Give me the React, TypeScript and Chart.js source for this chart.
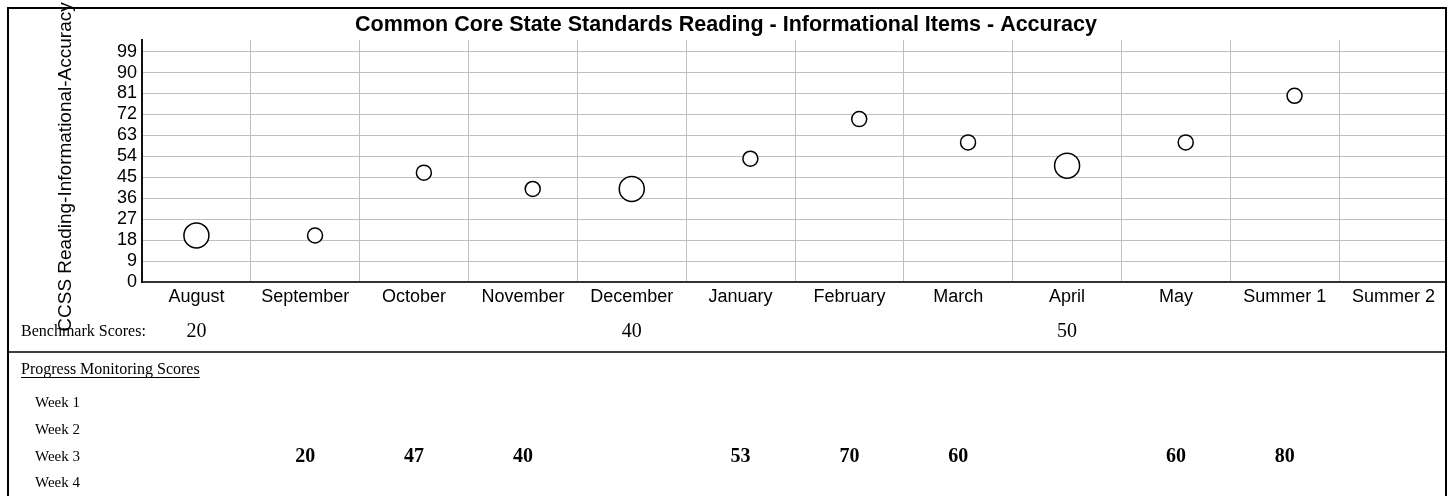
import React, { useEffect, useRef } from 'react';
import { Chart, registerables } from 'chart.js';

Chart.register(...registerables);

const TITLE = 'Common Core State Standards Reading - Informational Items - Accuracy';
const Y_TITLE = 'CCSS Reading-Informational-Accuracy';

const months = ['August', 'September', 'October', 'November', 'December', 'January', 'February', 'March', 'April', 'May', 'Summer 1', 'Summer 2'];
const yTicks = [0, 9, 18, 27, 36, 45, 54, 63, 72, 81, 90, 99];

const benchmarkScores: (number | null)[] = [20, null, null, null, 40, null, null, null, 50, null, null, null];
const week1Scores: (number | null)[] = [null, null, null, null, null, null, null, null, null, null, null, null];
const week2Scores: (number | null)[] = [null, null, null, null, null, null, null, null, null, null, null, null];
const week3Scores: (number | null)[] = [null, 20, 47, 40, null, 53, 70, 60, null, 60, 80, null];
const week4Scores: (number | null)[] = [null, null, null, null, null, null, null, null, null, null, null, null];

const weekLabels = ['Week 1', 'Week 2', 'Week 3', 'Week 4'];
const weekScores = [week1Scores, week2Scores, week3Scores, week4Scores];
// position of each week inside its month column (fraction of the month)
const weekPositions = [0.2, 0.4, 0.59, 0.8];
const benchmarkPosition = 0.5;

const SANS = "'Liberation Sans', Arial, Helvetica, sans-serif";
const SERIF = "'Liberation Serif', 'Times New Roman', Times, serif";

function toPoints(scores: (number | null)[], frac: number) {
  const pts: { x: number; y: number }[] = [];
  scores.forEach((v, i) => {
    if (v !== null) pts.push({ x: i + frac, y: v });
  });
  return pts;
}

const framePlugin = {
  id: 'frameAndTable',
  afterDraw(chart: any) {
    const ctx = chart.ctx;
    const xs = chart.scales.xv;
    ctx.save();

    // anything past the frame's right edge is hidden
    ctx.fillStyle = '#fff';
    ctx.fillRect(1447, 0, chart.width - 1447, chart.height);

    // frame and divider
    ctx.strokeStyle = '#000';
    ctx.lineWidth = 2;
    ctx.beginPath();
    ctx.moveTo(8, 520);
    ctx.lineTo(8, 8);
    ctx.lineTo(1446, 8);
    ctx.lineTo(1446, 520);
    ctx.stroke();
    ctx.lineWidth = 1.5;
    ctx.beginPath();
    ctx.moveTo(8, 352);
    ctx.lineTo(1446, 352);
    ctx.stroke();

    ctx.fillStyle = '#000';
    ctx.textBaseline = 'middle';

    // vertical axis title
    ctx.save();
    ctx.translate(66, 167);
    ctx.rotate(-Math.PI / 2);
    ctx.textAlign = 'center';
    ctx.font = `19px ${SANS}`;
    ctx.fillText(Y_TITLE, 0, 0);
    ctx.restore();

    // Benchmark row
    ctx.textAlign = 'left';
    ctx.font = `16px ${SERIF}`;
    ctx.fillText('Benchmark Scores:', 21, 332);
    ctx.textAlign = 'center';
    ctx.font = `20px ${SERIF}`;
    benchmarkScores.forEach((v, i) => {
      if (v !== null) ctx.fillText(String(v), xs.getPixelForValue(i + 0.5), 332);
    });

    // Progress monitoring header
    ctx.textAlign = 'left';
    ctx.font = `16px ${SERIF}`;
    const hdr = 'Progress Monitoring Scores';
    ctx.fillText(hdr, 21, 370);
    const w = ctx.measureText(hdr).width;
    ctx.strokeStyle = '#000';
    ctx.lineWidth = 1;
    ctx.beginPath();
    ctx.moveTo(21, 377.5);
    ctx.lineTo(21 + w, 377.5);
    ctx.stroke();

    const rowY = [403, 430, 457, 483];
    weekLabels.forEach((lbl, r) => {
      ctx.textAlign = 'left';
      ctx.font = `15px ${SERIF}`;
      ctx.fillText(lbl, 35, rowY[r]);
      ctx.textAlign = 'center';
      ctx.font = `bold 20px ${SERIF}`;
      weekScores[r].forEach((v, i) => {
        if (v !== null) ctx.fillText(String(v), xs.getPixelForValue(i + 0.5), rowY[r]);
      });
    });
    ctx.restore();
  },
};

export default function App() {
  const ref = useRef<HTMLCanvasElement | null>(null);

  useEffect(() => {
    if (!ref.current) return;
    const pointStyle = {
      pointStyle: 'circle',
      pointBorderColor: '#000',
      pointBackgroundColor: '#fff',
      pointBorderWidth: 1.5,
      pointHoverRadius: 0,
      xAxisID: 'xv',
      yAxisID: 'y',
    };
    const datasets: any[] = [
      { label: 'Benchmark', data: toPoints(benchmarkScores, benchmarkPosition), pointRadius: 12.5, ...pointStyle },
      ...weekScores.map((s, k) => ({ label: weekLabels[k], data: toPoints(s, weekPositions[k]), pointRadius: 7.5, ...pointStyle })),
    ];

    const chart = new Chart(ref.current, {
      type: 'scatter',
      data: { datasets },
      options: {
        responsive: false,
        animation: false,
        events: [],
        layout: { autoPadding: false, padding: { left: 4, right: 6, top: 0, bottom: 0 } },
        plugins: {
          legend: { display: false },
          tooltip: { enabled: false },
          title: {
            display: true,
            text: TITLE,
            color: '#000',
            font: { family: SANS, size: 21.5, weight: 'bold', lineHeight: 1.2 },
            padding: { top: 12.5, bottom: 1.7 },
          },
        },
        scales: {
          x: {
            type: 'category',
            labels: months,
            offset: true,
            position: 'bottom',
            grid: { offset: true, color: '#c0c0c0', lineWidth: 1, drawTicks: false },
            border: { display: true, color: '#333', width: 2 },
            ticks: { font: { family: SANS, size: 18 }, color: '#000', padding: 4, maxRotation: 0, autoSkip: false },
            afterFit: (s: any) => { s.height = 214; s.paddingLeft = 0; s.paddingRight = 0; },
          },
          xv: { type: 'linear', display: false, min: 0, max: 12 },
          y: {
            type: 'linear',
            min: 0,
            max: 104,
            afterBuildTicks: (s: any) => { s.ticks = yTicks.map((v) => ({ value: v })); },
            grid: { color: '#c0c0c0', lineWidth: 1, drawTicks: false },
            border: { display: true, color: '#111', width: 2 },
            ticks: { font: { family: SANS, size: 18 }, color: '#000', padding: 5, autoSkip: false },
            afterFit: (s: any) => { s.width = 138; s.paddingTop = 0; s.paddingBottom = 0; },
          },
        },
      } as any,
      plugins: [framePlugin],
    });
    return () => chart.destroy();
  }, []);

  return (
    <div style={{ position: 'absolute', left: 0, top: 0, width: 1454, height: 496, background: '#fff' }}>
      <canvas ref={ref} width={1454} height={496} style={{ display: 'block' }} />
    </div>
  );
}
